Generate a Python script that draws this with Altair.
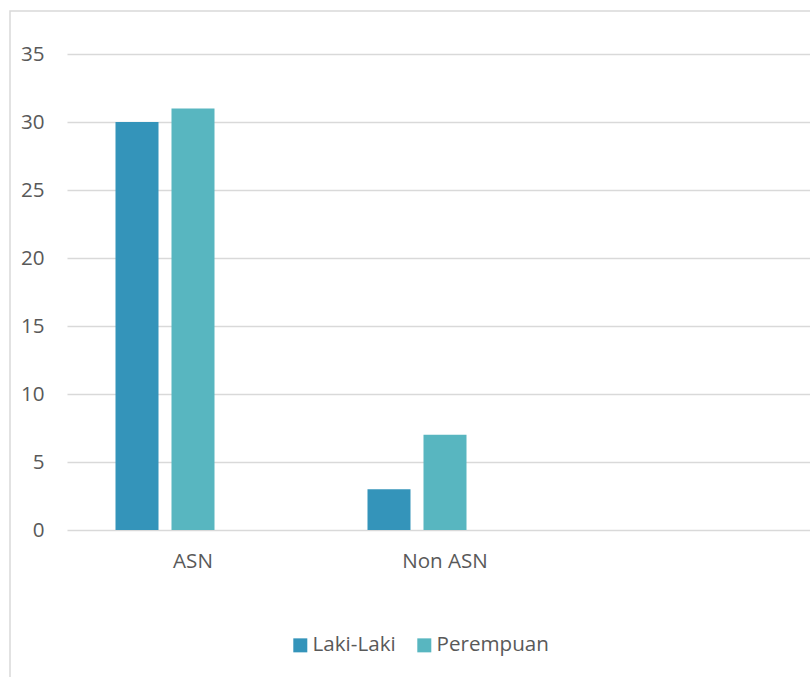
import altair as alt
import pandas as pd

categories = ["ASN", "ASN", "Non ASN", "Non ASN"]
series = ["Laki-Laki", "Perempuan", "Laki-Laki", "Perempuan"]
values = [30, 31, 3, 7]

x_domain = ["ASN", "Non ASN", " "]
series_domain = ["Laki-Laki", "Perempuan", "(kosong)"]
colors = ["#3494BA", "#58B6C0"]

df = pd.DataFrame({"kategori": categories, "jenis": series, "jumlah": values})

FONT = "Open Sans"
TXT = "#595959"
GRID = "#D9D9D9"
FS = 20.6

bars = alt.Chart(df).mark_bar().encode(
    x=alt.X("kategori:N", scale=alt.Scale(domain=x_domain, range=[0, 756], paddingInner=0, paddingOuter=0),
            axis=alt.Axis(title=None, labelAngle=0, domain=False, ticks=False, labelPadding=21,
                          labelFontSize=FS, labelColor=TXT, labelFont=FONT, grid=False)),
    xOffset=alt.XOffset("jenis:N", scale=alt.Scale(domain=series_domain, paddingInner=0.232, paddingOuter=0.866)),
    y=alt.Y("jumlah:Q", scale=alt.Scale(domain=[0, 35], nice=False),
            axis=alt.Axis(title=None, values=[0, 5, 10, 15, 20, 25, 30, 35], domain=False, ticks=False,
                          labelPadding=23, labelFontSize=FS, labelColor=TXT, labelFont=FONT,
                          grid=True, gridColor=GRID, gridWidth=1.3)),
    color=alt.Color("jenis:N", scale=alt.Scale(domain=["Laki-Laki", "Perempuan"], range=colors),
                    legend=alt.Legend(title=None, orient="none", legendX=223, legendY=581, direction="horizontal",
                                      symbolType="square", symbolSize=196, symbolStrokeWidth=0,
                                      labelFontSize=FS, labelColor=TXT, labelFont=FONT,
                                      labelOffset=2, columnPadding=18)),
)

border = alt.Chart(pd.DataFrame({"b": [0]})).mark_rect(
    fill=None, stroke=GRID, strokeWidth=1.5, clip=False
).encode(x=alt.value(-57), x2=alt.value(800), y=alt.value(-43), y2=alt.value(700))

chart = alt.layer(border, bars).properties(
    width=743, height=476,
    autosize=alt.AutoSizeParams(type="none"),
    padding={"left": 67, "top": 54, "right": 0, "bottom": 147},
).configure(background="white", view=alt.ViewConfig(stroke=None))

chart.save("out.html", embed_options={"renderer": "svg", "actions": False})
